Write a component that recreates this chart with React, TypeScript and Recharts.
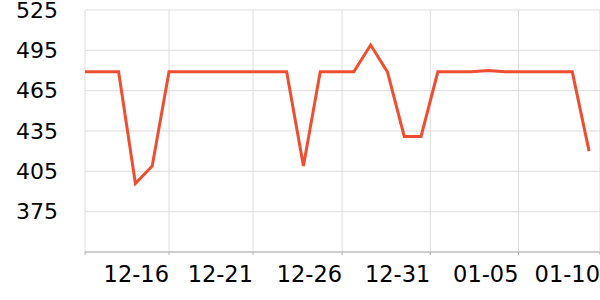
import { CartesianGrid, Line, LineChart, XAxis, YAxis } from 'recharts';

const days = [
  '12-11', '12-12', '12-13', '12-14', '12-15', '12-16', '12-17', '12-18', '12-19', '12-20',
  '12-21', '12-22', '12-23', '12-24', '12-25', '12-26', '12-27', '12-28', '12-29', '12-30',
  '12-31', '01-01', '01-02', '01-03', '01-04', '01-05', '01-06', '01-07', '01-08', '01-09', '01-10',
];

const prices = [
  479, 479, 479, 396, 409, 479, 479, 479, 479, 479,
  479, 479, 479, 409, 479, 479, 479, 499, 479, 431,
  431, 479, 479, 479, 480, 479, 479, 479, 479, 479, 420,
];

// where the date ticks sit, in point-index units
const tickPos = [0, 5, 10, 15.3, 20.55, 25.8, 30.65];
const tickLabels = ['', '12-16', '12-21', '12-26', '12-31', '01-05', '01-10'];
const yTicks = [345, 375, 405, 435, 465, 495, 525];

const data = days.map((day, i) => ({ i, day, price: prices[i] }));

const font = 'DejaVu Sans, sans-serif';

function DateTick(props: any) {
  const { x, y, payload } = props;
  const idx = tickPos.indexOf(payload.value);
  return (
    <text x={x} y={y} dy={25} textAnchor="end" fontSize={22.5} fontFamily={font} fill="#000">
      {tickLabels[idx] ?? ''}
    </text>
  );
}

export default function App() {
  return (
    <div style={{ position: 'absolute', left: 0, top: 0, width: 600, height: 300, background: '#fff' }}>
      <LineChart width={600} height={300} data={data} margin={{ top: 10, right: 0, left: 0, bottom: 0 }}>
        <CartesianGrid stroke="#dddddd" />
        <XAxis
          type="number"
          dataKey="i"
          domain={[0, 30.65]}
          ticks={tickPos}
          interval={0}
          height={48}
          tick={<DateTick />}
          tickSize={3}
          tickMargin={2}
          stroke="#b0b0b0"
          allowDataOverflow
        />
        <YAxis
          domain={[345, 525]}
          ticks={yTicks}
          interval={0}
          width={85}
          axisLine={false}
          tickLine={false}
          tickMargin={21}
          tickFormatter={(v: number) => (v === 345 ? '' : String(v))}
          tick={{ fontSize: 22, fontFamily: font, fill: '#000' }}
        />
        <Line
          type="linear"
          dataKey="price"
          stroke="#f04e30"
          strokeWidth={3}
          dot={false}
          isAnimationActive={false}
        />
      </LineChart>
    </div>
  );
}
